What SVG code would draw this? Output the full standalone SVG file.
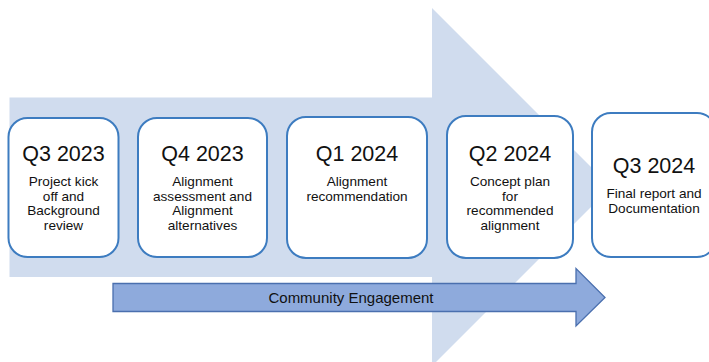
<svg xmlns="http://www.w3.org/2000/svg" width="709" height="362" viewBox="0 0 709 362">
  <style>
    .box { fill: #ffffff; stroke: #3d7cc0; stroke-width: 2; }
    .title { font-family: "Liberation Sans", Arial, sans-serif; font-size: 21.5px; fill: #111111; text-anchor: middle; }
    .desc { font-family: "Liberation Sans", Arial, sans-serif; font-size: 13.6px; fill: #111111; text-anchor: middle; }
    .ce { font-family: "Liberation Sans", Arial, sans-serif; font-size: 15px; fill: #111111; text-anchor: middle; }
  </style>
  <rect width="709" height="362" fill="#ffffff"/>
  <g id="timeline-arrow">
    <polygon points="9.5,97.5 432,97.5 432,8 611,187 432,366 432,277 9.5,277" fill="#d0dcee"/>
  </g>
  <g id="connectors">
    <g id="community-engagement">
      <polygon points="113,283.5 576,283.5 576,268.5 605,297.5 576,326 576,311.5 113,311.5" fill="#8eaadc" stroke="#4a6fae" stroke-width="1.3"/>
      <text class="ce" x="351" y="303">Community Engagement</text>
    </g>
  </g>
  <g id="node-q3-2023">
    <rect class="box" x="8.5" y="118" width="110" height="139" rx="19"/>
    <text class="title" x="63.5" y="161">Q3 2023</text>
    <text class="desc" x="63.5" y="186">Project kick</text>
    <text class="desc" x="63.5" y="200.5">off and</text>
    <text class="desc" x="63.5" y="215">Background</text>
    <text class="desc" x="63.5" y="229.5">review</text>
  </g>
  <g id="node-q4-2023">
    <rect class="box" x="138" y="118" width="129" height="139" rx="19"/>
    <text class="title" x="202.5" y="161">Q4 2023</text>
    <text class="desc" x="202.5" y="186">Alignment</text>
    <text class="desc" x="202.5" y="200.5">assessment and</text>
    <text class="desc" x="202.5" y="215">Alignment</text>
    <text class="desc" x="202.5" y="229.5">alternatives</text>
  </g>
  <g id="node-q1-2024">
    <rect class="box" x="287" y="117" width="140" height="141" rx="19"/>
    <text class="title" x="357" y="161">Q1 2024</text>
    <text class="desc" x="357" y="186">Alignment</text>
    <text class="desc" x="357" y="200.5">recommendation</text>
  </g>
  <g id="node-q2-2024">
    <rect class="box" x="447" y="116" width="126" height="142" rx="19"/>
    <text class="title" x="510" y="161">Q2 2024</text>
    <text class="desc" x="510" y="186">Concept plan</text>
    <text class="desc" x="510" y="200.5">for</text>
    <text class="desc" x="510" y="215">recommended</text>
    <text class="desc" x="510" y="229.5">alignment</text>
  </g>
  <g id="node-q3-2024">
    <rect class="box" x="592" y="113" width="124" height="144" rx="19"/>
    <text class="title" x="654" y="173">Q3 2024</text>
    <text class="desc" x="654" y="198">Final report and</text>
    <text class="desc" x="654" y="212.5">Documentation</text>
  </g>
</svg>
